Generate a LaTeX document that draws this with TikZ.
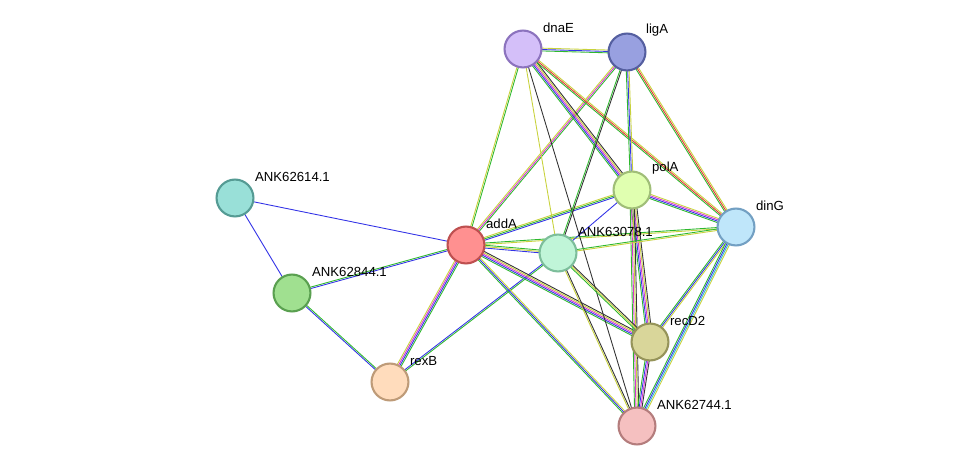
\documentclass[tikz,border=0pt]{standalone}
\usepackage{fontspec}
\setmainfont{Liberation Sans}
\usetikzlibrary{calc,backgrounds}
\definecolor{sgreen}{HTML}{2EB82E}
\definecolor{syellow}{HTML}{C8D23C}
\definecolor{sblue}{HTML}{3333E6}
\definecolor{smag}{HTML}{D633D6}
\definecolor{sred}{HTML}{E63333}
\definecolor{scyan}{HTML}{33B8D6}
\definecolor{sblack}{HTML}{333333}
\tikzset{
  prot/.style={circle,draw,line width=1.2pt,minimum size=21pt,inner sep=0pt},
  plabel/.style={font=\fontsize{7.5}{9}\selectfont,inner sep=1pt}
}
% parallel strands between two nodes
\newcommand{\lnk}[3]{%
  \def\nn{0}\foreach \c in {#3}{\xdef\nn{\the\numexpr\nn+1}}%
  \foreach \c [count=\i] in {#3}{%
    \pgfmathsetmacro\off{(\i-(\nn+1)/2)*0.8}
    \draw[\c,line width=.5pt] ($(#1.center)!\off pt!90:(#2.center)$) -- ($(#2.center)!\off pt!-90:(#1.center)$);}}
\begin{document}
\begin{tikzpicture}[x=0.02cm,y=-0.02cm]
\useasboundingbox (0,0) rectangle (975,472);
\node[prot,fill={rgb,255:red,212;green,191;blue,249},draw={rgb,255:red,140;green,115;blue,190}] (dnaE) at (523,49) {};
\node[prot,fill={rgb,255:red,152;green,160;blue,224},draw={rgb,255:red,85;green,95;blue,160}] (ligA) at (627,52) {};
\node[prot,fill={rgb,255:red,224;green,255;blue,176},draw={rgb,255:red,160;green,190;blue,120}] (polA) at (632,190) {};
\node[prot,fill={rgb,255:red,191;green,230;blue,250},draw={rgb,255:red,115;green,160;blue,195}] (dinG) at (736,227) {};
\node[prot,fill={rgb,255:red,255;green,144;blue,144},draw={rgb,255:red,190;green,80;blue,80}] (addA) at (466,245) {};
\node[prot,fill={rgb,255:red,192;green,245;blue,216},draw={rgb,255:red,125;green,190;blue,155}] (ANK63078) at (558,253) {};
\node[prot,fill={rgb,255:red,153;green,224;blue,216},draw={rgb,255:red,85;green,155;blue,148}] (ANK62614) at (235,198) {};
\node[prot,fill={rgb,255:red,160;green,224;blue,144},draw={rgb,255:red,90;green,160;blue,80}] (ANK62844) at (292,293) {};
\node[prot,fill={rgb,255:red,255;green,220;blue,188},draw={rgb,255:red,190;green,155;blue,120}] (rexB) at (390,382) {};
\node[prot,fill={rgb,255:red,217;green,214;blue,154},draw={rgb,255:red,150;green,148;blue,90}] (recD2) at (650,342) {};
\node[prot,fill={rgb,255:red,245;green,192;blue,192},draw={rgb,255:red,180;green,125;blue,125}] (ANK62744) at (637,426) {};
% labels
\node[plabel,anchor=south west] (ldnaE) at (541,35) {dnaE};
\node[plabel,anchor=south west] (lligA) at (644,38) {ligA};
\node[plabel,anchor=south west] (lpolA) at (650,176) {polA};
\node[plabel,anchor=south west] (ldinG) at (754,213) {dinG};
\node[plabel,anchor=south west] (laddA) at (484,231) {addA};
\node[plabel,anchor=south west] (l63078) at (576,239) {ANK63078.1};
\node[plabel,anchor=south west] (l62614) at (253,184) {ANK62614.1};
\node[plabel,anchor=south west] (l62844) at (310,279) {ANK62844.1};
\node[plabel,anchor=south west] (lrexB) at (408,368) {rexB};
\node[plabel,anchor=south west] (lrecD2) at (668,328) {recD2};
\node[plabel,anchor=south west] (l62744) at (655,412) {ANK62744.1};
\begin{scope}[on background layer]
\lnk{addA}{ANK62614}{sblue}
\lnk{ANK62614}{ANK62844}{sblue}
\lnk{ANK62844}{rexB}{sblue,sgreen}
\lnk{ANK62844}{addA}{sblue,sgreen}
\lnk{addA}{rexB}{syellow,smag,sblue,sgreen}
\lnk{rexB}{ANK63078}{sgreen,sblue}
\lnk{addA}{dnaE}{sgreen,syellow}
\lnk{addA}{ligA}{sgreen,smag,syellow}
\lnk{addA}{polA}{sblue,sgreen,syellow}
\lnk{addA}{ANK63078}{sblue,syellow,sgreen}
\lnk{addA}{dinG}{syellow,sgreen}
\lnk{addA}{recD2}{sgreen,sblue,smag,syellow,sblack}
\lnk{addA}{ANK62744}{sgreen,sblue,syellow}
\lnk{dnaE}{ligA}{sgreen,sblue,syellow}
\lnk{dnaE}{polA}{sgreen,sblue,smag,syellow,sblack}
\lnk{dnaE}{dinG}{sgreen,sred,syellow}
\lnk{dnaE}{ANK63078}{syellow}
\lnk{dnaE}{ANK62744}{sblack}
\lnk{ligA}{polA}{sgreen,sblue,syellow}
\lnk{ligA}{dinG}{sgreen,sred,syellow}
\lnk{ligA}{ANK63078}{sgreen,sblack}
\lnk{polA}{dinG}{sgreen,sblue,smag,syellow}
\lnk{polA}{ANK63078}{sblue}
\lnk{polA}{recD2}{sgreen,sblue,smag,syellow,sblack}
\lnk{polA}{ANK62744}{sgreen,smag,syellow,sblack}
\lnk{dinG}{ANK63078}{sgreen,syellow}
\lnk{dinG}{recD2}{sgreen,sblue,syellow}
\lnk{dinG}{ANK62744}{sgreen,sblue,scyan,syellow}
\lnk{ANK63078}{recD2}{sgreen,syellow,sblack}
\lnk{ANK63078}{ANK62744}{syellow,sblack}
\lnk{recD2}{ANK62744}{sgreen,sblue,smag,sblack}
\end{scope}
\end{tikzpicture}
\end{document}
